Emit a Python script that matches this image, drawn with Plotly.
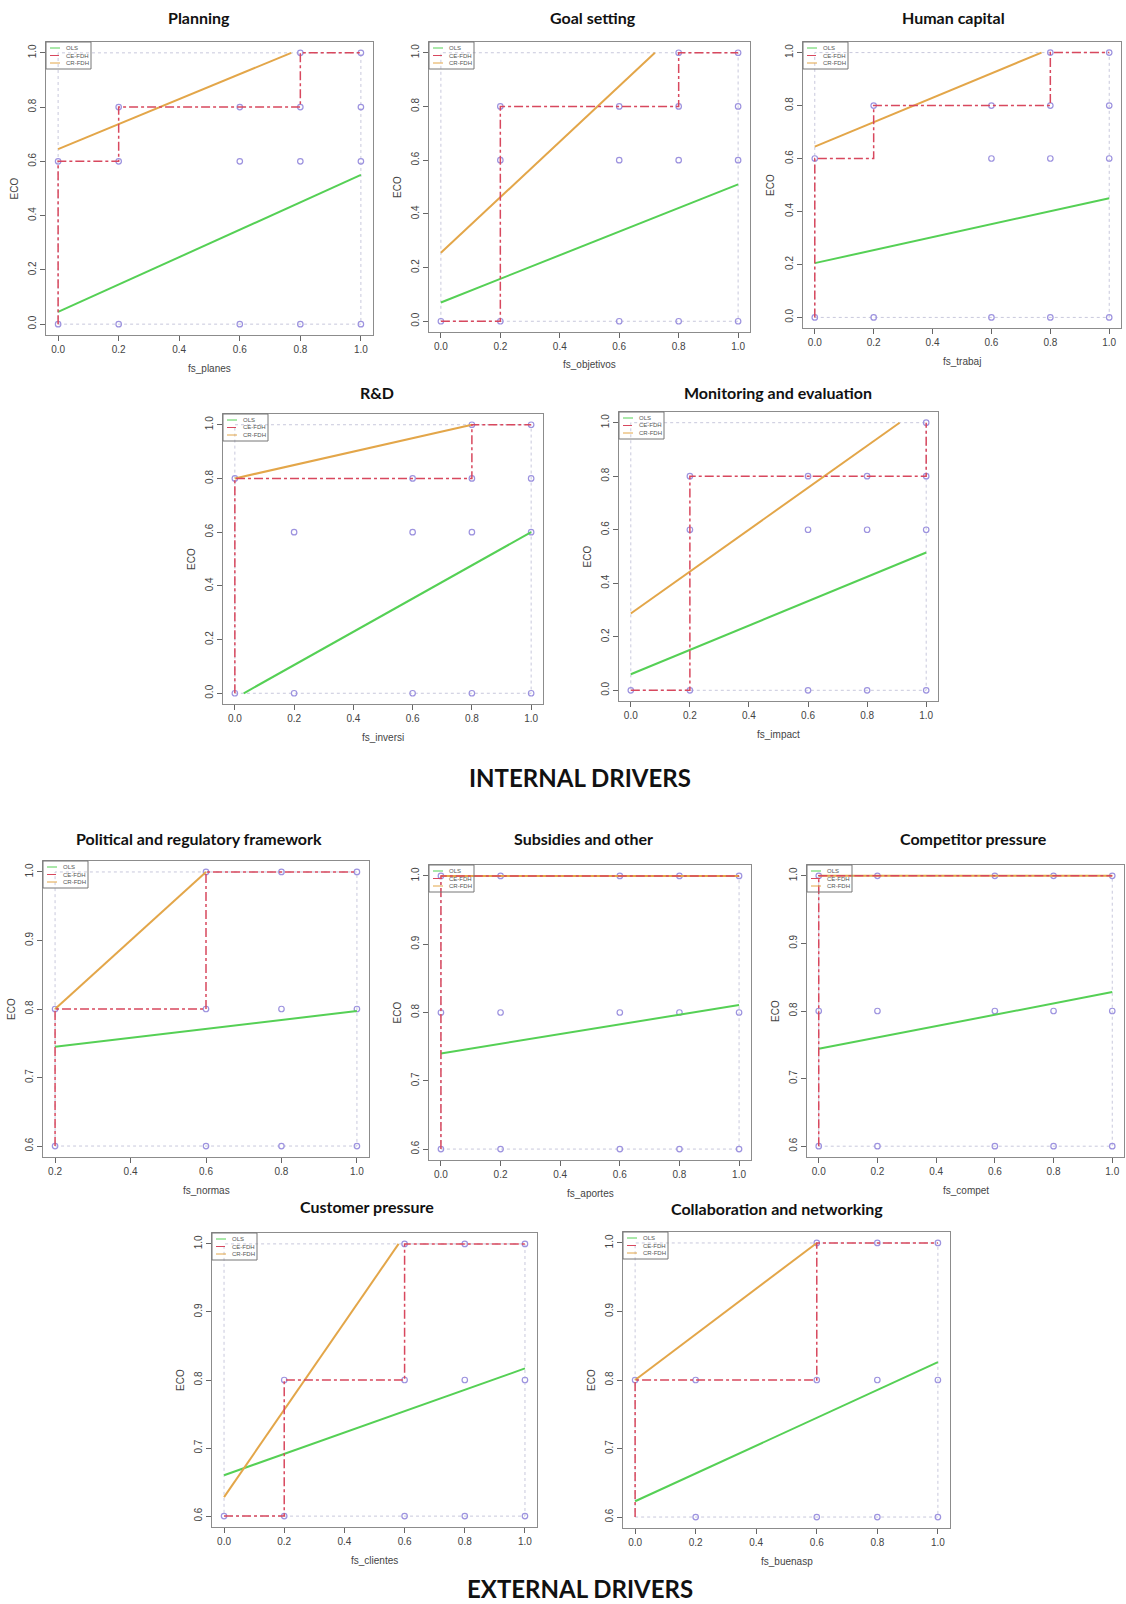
import plotly.graph_objects as go

W, H = 1126, 1604

# ---------------- data ----------------
titles = ["Planning", "Goal setting", "Human capital", "R&D", "Monitoring and evaluation",
          "Political and regulatory framework", "Subsidies and other", "Competitor pressure",
          "Customer pressure", "Collaboration and networking"]
xlabels = ["fs_planes", "fs_objetivos", "fs_trabaj", "fs_inversi", "fs_impact",
           "fs_normas", "fs_aportes", "fs_compet", "fs_clientes", "fs_buenasp"]

planning_x = [0, 0, 0.2, 0.2, 0.2, 0.6, 0.6, 0.6, 0.8, 0.8, 0.8, 0.8, 1, 1, 1, 1]
planning_y = [0.6, 0, 0.8, 0.6, 0, 0.8, 0.6, 0, 1, 0.8, 0.6, 0, 1, 0.8, 0.6, 0]
planning_ols = [[0, 1], [0.045, 0.55]]
planning_ce = [[0, 0, 0.2, 0.2, 0.8, 0.8, 1], [0, 0.6, 0.6, 0.8, 0.8, 1, 1]]
planning_cr = [[0, 0.77], [0.645, 1.0]]

goal_x = [0, 0.2, 0.2, 0.2, 0.6, 0.6, 0.6, 0.8, 0.8, 0.8, 0.8, 1, 1, 1, 1]
goal_y = [0, 0.8, 0.6, 0, 0.8, 0.6, 0, 1, 0.8, 0.6, 0, 1, 0.8, 0.6, 0]
goal_ols = [[0, 1], [0.07, 0.51]]
goal_ce = [[0, 0.2, 0.2, 0.8, 0.8, 1], [0, 0, 0.8, 0.8, 1, 1]]
goal_cr = [[0, 0.72], [0.255, 1.0]]

human_x = [0, 0, 0.2, 0.2, 0.6, 0.6, 0.6, 0.8, 0.8, 0.8, 0.8, 1, 1, 1, 1]
human_y = [0.6, 0, 0.8, 0, 0.8, 0.6, 0, 1, 0.8, 0.6, 0, 1, 0.8, 0.6, 0]
human_ols = [[0, 1], [0.205, 0.45]]
human_ce = [[0, 0, 0.2, 0.2, 0.8, 0.8, 1], [0, 0.6, 0.6, 0.8, 0.8, 1, 1]]
human_cr = [[0, 0.77], [0.645, 1.0]]

rd_x = [0, 0, 0.2, 0.2, 0.6, 0.6, 0.6, 0.8, 0.8, 0.8, 0.8, 1, 1, 1, 1]
rd_y = [0.8, 0, 0.6, 0, 0.8, 0.6, 0, 1, 0.8, 0.6, 0, 1, 0.8, 0.6, 0]
rd_ols = [[0.03, 1], [0.0, 0.6]]
rd_ce = [[0, 0, 0.8, 0.8, 1], [0, 0.8, 0.8, 1, 1]]
rd_cr = [[0, 0.8], [0.8, 1.0]]

monit_x = [0, 0.2, 0.2, 0.2, 0.6, 0.6, 0.6, 0.8, 0.8, 0.8, 1, 1, 1, 1]
monit_y = [0, 0.8, 0.6, 0, 0.8, 0.6, 0, 0.8, 0.6, 0, 1, 0.8, 0.6, 0]
monit_ols = [[0, 1], [0.06, 0.515]]
monit_ce = [[0, 0.2, 0.2, 1, 1], [0, 0, 0.8, 0.8, 1]]
monit_cr = [[0, 0.91], [0.287, 1.0]]

polit_x = [0.2, 0.2, 0.6, 0.6, 0.6, 0.8, 0.8, 0.8, 1, 1, 1]
polit_y = [0.8, 0.6, 1, 0.8, 0.6, 1, 0.8, 0.6, 1, 0.8, 0.6]
polit_ols = [[0.2, 1], [0.745, 0.797]]
polit_ce = [[0.2, 0.2, 0.6, 0.6, 1], [0.6, 0.8, 0.8, 1, 1]]
polit_cr = [[0.2, 0.6], [0.8, 1.0]]

subs_x = [0, 0, 0, 0.2, 0.2, 0.2, 0.6, 0.6, 0.6, 0.8, 0.8, 0.8, 1, 1, 1]
subs_y = [1, 0.8, 0.6, 1, 0.8, 0.6, 1, 0.8, 0.6, 1, 0.8, 0.6, 1, 0.8, 0.6]
subs_ols = [[0, 1], [0.74, 0.811]]
subs_ce = [[0, 0, 1], [0.6, 1, 1]]
subs_cr = [[0, 1], [1.0, 1.0]]

compet_x = [0, 0, 0, 0.2, 0.2, 0.2, 0.6, 0.6, 0.6, 0.8, 0.8, 0.8, 1, 1, 1]
compet_y = [1, 0.8, 0.6, 1, 0.8, 0.6, 1, 0.8, 0.6, 1, 0.8, 0.6, 1, 0.8, 0.6]
compet_ols = [[0, 1], [0.744, 0.828]]
compet_ce = [[0, 0, 1], [0.6, 1, 1]]
compet_cr = [[0, 1], [1.0, 1.0]]

client_x = [0, 0.2, 0.2, 0.6, 0.6, 0.6, 0.8, 0.8, 0.8, 1, 1, 1]
client_y = [0.6, 0.8, 0.6, 1, 0.8, 0.6, 1, 0.8, 0.6, 1, 0.8, 0.6]
client_ols = [[0, 1], [0.66, 0.817]]
client_ce = [[0, 0.2, 0.2, 0.6, 0.6, 1], [0.6, 0.6, 0.8, 0.8, 1, 1]]
client_cr = [[0, 0.58], [0.628, 1.0]]

collab_x = [0, 0.2, 0.2, 0.6, 0.6, 0.6, 0.8, 0.8, 0.8, 1, 1, 1]
collab_y = [0.8, 0.8, 0.6, 1, 0.8, 0.6, 1, 0.8, 0.6, 1, 0.8, 0.6]
collab_ols = [[0, 1], [0.623, 0.826]]
collab_ce = [[0, 0, 0.6, 0.6, 1], [0.6, 0.8, 0.8, 1, 1]]
collab_cr = [[0, 0.6], [0.8, 1.0]]

xticks_int = [0, 0.2, 0.4, 0.6, 0.8, 1.0]
yticks_int = [0, 0.2, 0.4, 0.6, 0.8, 1.0]
xticks_pol = [0.2, 0.4, 0.6, 0.8, 1.0]
yticks_ext = [0.6, 0.7, 0.8, 0.9, 1.0]

section_titles = ["INTERNAL DRIVERS", "EXTERNAL DRIVERS"]
legend_names = ["OLS", "CE-FDH", "CR-FDH"]

# ---------------- layout geometry (pixels) ----------------
boxes = [(46, 373, 42, 335), (429, 750, 42, 332), (803, 1121, 42, 328),
         (223, 543, 414, 704), (619, 938, 412, 701),
         (43, 369, 861, 1157), (429, 751, 865, 1160), (807, 1124, 865, 1157),
         (212, 537, 1233, 1527), (623, 950, 1232, 1528)]
title_pos = [(199, 17), (593, 17), (953, 17), (377, 393), (778, 393),
             (199, 838), (583, 838), (973, 838), (367, 1206), (777, 1208)]

panels = [
    (planning_x, planning_y, planning_ols, planning_ce, planning_cr, xticks_int, yticks_int),
    (goal_x, goal_y, goal_ols, goal_ce, goal_cr, xticks_int, yticks_int),
    (human_x, human_y, human_ols, human_ce, human_cr, xticks_int, yticks_int),
    (rd_x, rd_y, rd_ols, rd_ce, rd_cr, xticks_int, yticks_int),
    (monit_x, monit_y, monit_ols, monit_ce, monit_cr, xticks_int, yticks_int),
    (polit_x, polit_y, polit_ols, polit_ce, polit_cr, xticks_pol, yticks_ext),
    (subs_x, subs_y, subs_ols, subs_ce, subs_cr, xticks_int, yticks_ext),
    (compet_x, compet_y, compet_ols, compet_ce, compet_cr, xticks_int, yticks_ext),
    (client_x, client_y, client_ols, client_ce, client_cr, xticks_int, yticks_ext),
    (collab_x, collab_y, collab_ols, collab_ce, collab_cr, xticks_int, yticks_ext),
]

C_PT = "#9d93df"
C_OLS = "#55d055"
C_CE = "#d8485e"
C_CR = "#e3a649"
C_SCOPE = "#c8c8dc"
C_BOX = "#8c8c8c"
TICKFONT = dict(family="Liberation Sans, Arial", size=10, color="#444")

fig = go.Figure()
layout = dict(width=W, height=H, margin=dict(l=0, r=0, t=0, b=0),
              paper_bgcolor="white", plot_bgcolor="white", showlegend=False)
shapes, annotations = [], []

for i, (px_, py_, ols, ce, cr, xt, yt) in enumerate(panels):
    n = i + 1
    xa = "x" if n == 1 else f"x{n}"
    ya = "y" if n == 1 else f"y{n}"
    xmin, xmax = min(xt), max(xt)
    ymin, ymax = min(yt), max(yt)
    dx, dy = 0.04 * (xmax - xmin), 0.04 * (ymax - ymin)
    L, R, T, B = boxes[i]
    layout["xaxis" if n == 1 else f"xaxis{n}"] = dict(
        domain=[L / W, R / W], range=[xmin - dx, xmax + dx], anchor=ya,
        tickvals=xt, ticktext=[f"{v:.1f}" for v in xt], ticks="outside", ticklen=5,
        tickcolor="#666", tickfont=TICKFONT, showgrid=False, zeroline=False,
        showline=True, mirror=True, linecolor=C_BOX, linewidth=1)
    layout["yaxis" if n == 1 else f"yaxis{n}"] = dict(
        domain=[1 - B / H, 1 - T / H], range=[ymin - dy, ymax + dy], anchor=xa,
        tickvals=yt, ticktext=[f"{v:.1f}" for v in yt], ticks="outside", ticklen=5,
        tickcolor="#666", tickfont=TICKFONT, tickangle=-90, showgrid=False, zeroline=False,
        showline=True, mirror=True, linecolor=C_BOX, linewidth=1)

    # scope rectangle (dotted)
    shapes.append(dict(type="rect", xref=xa, yref=ya, x0=xmin, x1=xmax, y0=ymin, y1=ymax,
                       line=dict(color=C_SCOPE, width=1, dash="dot"), layer="below"))

    fig.add_trace(go.Scatter(x=px_, y=py_, mode="markers", xaxis=xa, yaxis=ya,
                             marker=dict(symbol="circle-open", size=5.5, color=C_PT,
                                         line=dict(width=1.2, color=C_PT))))
    fig.add_trace(go.Scatter(x=ols[0], y=ols[1], mode="lines", xaxis=xa, yaxis=ya,
                             line=dict(color=C_OLS, width=2)))
    fig.add_trace(go.Scatter(x=cr[0], y=cr[1], mode="lines", xaxis=xa, yaxis=ya,
                             line=dict(color=C_CR, width=2)))
    fig.add_trace(go.Scatter(x=ce[0], y=ce[1], mode="lines", xaxis=xa, yaxis=ya,
                             line=dict(color=C_CE, width=1.5, dash="dashdot")))

    # titles
    tx, ty = title_pos[i]
    annotations.append(dict(x=tx / W, y=1 - ty / H, xref="paper", yref="paper", showarrow=False,
                            text=f"<b>{titles[i]}</b>", xanchor="center", yanchor="middle",
                            font=dict(family="Lato, Open Sans", size=16, color="#111")))
    # axis titles
    annotations.append(dict(x=(L + R) / 2 / W, y=1 - (B + 33) / H, xref="paper", yref="paper",
                            showarrow=False, text=xlabels[i], xanchor="center", yanchor="middle",
                            font=dict(family="Liberation Sans, Arial", size=10, color="#444")))
    annotations.append(dict(x=(L - 32) / W, y=1 - (T + B) / 2 / H, xref="paper", yref="paper",
                            showarrow=False, text="ECO", textangle=-90, xanchor="center",
                            yanchor="middle",
                            font=dict(family="Liberation Sans, Arial", size=10, color="#444")))

    # legend box (top-left inside plot)
    bw, bh = 45, 27
    shapes.append(dict(type="rect", xref="paper", yref="paper",
                       x0=L / W, x1=(L + bw) / W, y0=1 - (T + bh) / H, y1=1 - T / H,
                       line=dict(color="#777", width=1), fillcolor="rgba(255,255,255,0)"))
    for k, (nm, col, dash) in enumerate(zip(legend_names, [C_OLS, C_CE, C_CR],
                                            ["solid", "dashdot", "solid"])):
        yy = 1 - (T + 6 + k * 7.5) / H
        shapes.append(dict(type="line", xref="paper", yref="paper",
                           x0=(L + 4) / W, x1=(L + 14) / W, y0=yy, y1=yy,
                           line=dict(color=col, width=1, dash=dash)))
        annotations.append(dict(x=(L + 18) / W, y=yy, xref="paper", yref="paper", showarrow=False,
                                text=nm, xanchor="left", yanchor="middle",
                                font=dict(family="Liberation Sans, Arial", size=6, color="#555")))

annotations.append(dict(x=580 / W, y=1 - 777 / H, xref="paper", yref="paper", showarrow=False,
                        text=f"<b>{section_titles[0]}</b>", xanchor="center", yanchor="middle",
                        font=dict(family="Lato, Open Sans", size=24, color="#111")))
annotations.append(dict(x=580 / W, y=1 - 1588 / H, xref="paper", yref="paper", showarrow=False,
                        text=f"<b>{section_titles[1]}</b>", xanchor="center", yanchor="middle",
                        font=dict(family="Lato, Open Sans", size=24, color="#111")))

layout["shapes"] = shapes
layout["annotations"] = annotations
fig.update_layout(**layout)
fig.write_html("out.html", config={"displayModeBar": False},
               post_script="document.body.style.margin='0';document.body.style.overflow='hidden';")
